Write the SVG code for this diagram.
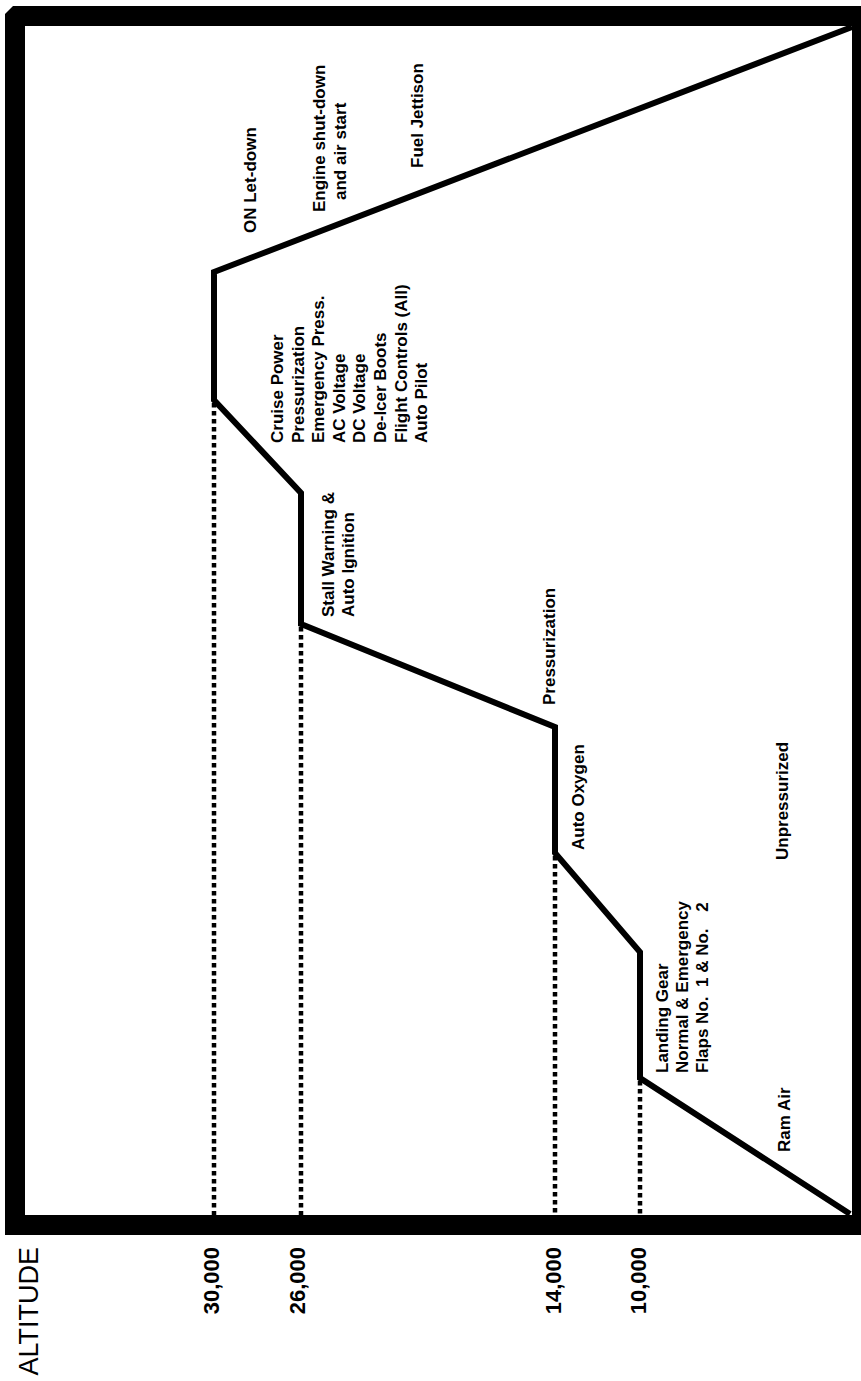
<svg xmlns="http://www.w3.org/2000/svg" width="861" height="1381" viewBox="0 0 861 1381">
<style>
.lbl{font-family:"Liberation Sans",Arial,sans-serif;font-weight:bold;font-size:17px;fill:#000}
.num{font-family:"Liberation Sans",Arial,sans-serif;font-weight:bold;font-size:22px;fill:#000}
.axis{font-family:"Liberation Sans",Arial,sans-serif;font-size:27px;fill:#000}
.profile{fill:none;stroke:#000;stroke-width:6;stroke-linejoin:miter}
.dot{fill:none;stroke:#000;stroke-width:4.5;stroke-dasharray:4.5 3.5}
</style>
<rect width="861" height="1381" fill="#fff"/>
<g id="frame">
<path fill="#000" fill-rule="evenodd" d="M13,6 H872 V1235 H5 V14 Z M25,26 V1215 H852 V26 Z"/>
</g>
<g id="connectors">
<polyline class="profile" points="850,1214 640,1078 640,952 555,853 555,727 301,624 301,493 214,400 214,272 852,27"/>
<line class="dot" x1="214" y1="403" x2="214" y2="1215"/>
<line class="dot" x1="301" y1="627" x2="301" y2="1215"/>
<line class="dot" x1="555" y1="856" x2="555" y2="1215"/>
<line class="dot" x1="640" y1="1081" x2="640" y2="1215"/>
</g>
<g id="axis-label"><text class="axis" text-anchor="end" transform="translate(38,1247) rotate(-90)">ALTITUDE</text></g>
<g id="alt-30000"><text class="num" text-anchor="end" transform="translate(219,1247) rotate(-90)">30,000</text></g>
<g id="alt-26000"><text class="num" text-anchor="end" transform="translate(305,1247) rotate(-90)">26,000</text></g>
<g id="alt-14000"><text class="num" text-anchor="end" transform="translate(561,1247) rotate(-90)">14,000</text></g>
<g id="alt-10000"><text class="num" text-anchor="end" transform="translate(646,1247) rotate(-90)">10,000</text></g>
<g id="on-letdown"><text class="lbl" transform="translate(256,233) rotate(-90)">ON Let-down</text></g>
<g id="engine-shutdown"><text class="lbl" transform="translate(325,212) rotate(-90)">Engine shut-down</text><text class="lbl" transform="translate(346,200) rotate(-90)">and air start</text></g>
<g id="fuel-jettison"><text class="lbl" transform="translate(423,168) rotate(-90)">Fuel Jettison</text></g>
<g id="cruise"><text class="lbl" transform="translate(283,443) rotate(-90)"><tspan x="0" y="0">Cruise Power</tspan><tspan x="0" dy="20.6">Pressurization</tspan><tspan x="0" dy="20.6">Emergency Press.</tspan><tspan x="0" dy="20.6">AC Voltage</tspan><tspan x="0" dy="20.6">DC Voltage</tspan><tspan x="0" dy="20.6">De-Icer Boots</tspan><tspan x="0" dy="20.6">Flight Controls (All)</tspan><tspan x="0" dy="20.6">Auto Pilot</tspan></text></g>
<g id="stall"><text class="lbl" transform="translate(334,617) rotate(-90)"><tspan x="0" y="0">Stall Warning &amp;</tspan><tspan x="0" dy="20">Auto Ignition</tspan></text></g>
<g id="pressurization"><text class="lbl" transform="translate(555,705) rotate(-90)">Pressurization</text></g>
<g id="auto-oxygen"><text class="lbl" transform="translate(584,850) rotate(-90)">Auto Oxygen</text></g>
<g id="unpressurized"><text class="lbl" transform="translate(788,860) rotate(-90)">Unpressurized</text></g>
<g id="landing-gear"><text class="lbl" transform="translate(668,1073) rotate(-90)" xml:space="preserve"><tspan x="0" y="0">Landing Gear</tspan><tspan x="0" dy="20">Normal &amp; Emergency</tspan><tspan x="0" dy="20">Flaps No.  1 &amp; No. <tspan dx="12">2</tspan></tspan></text></g>
<g id="ram-air"><text class="lbl" transform="translate(790,1152) rotate(-90)">Ram Air</text></g>
</svg>
